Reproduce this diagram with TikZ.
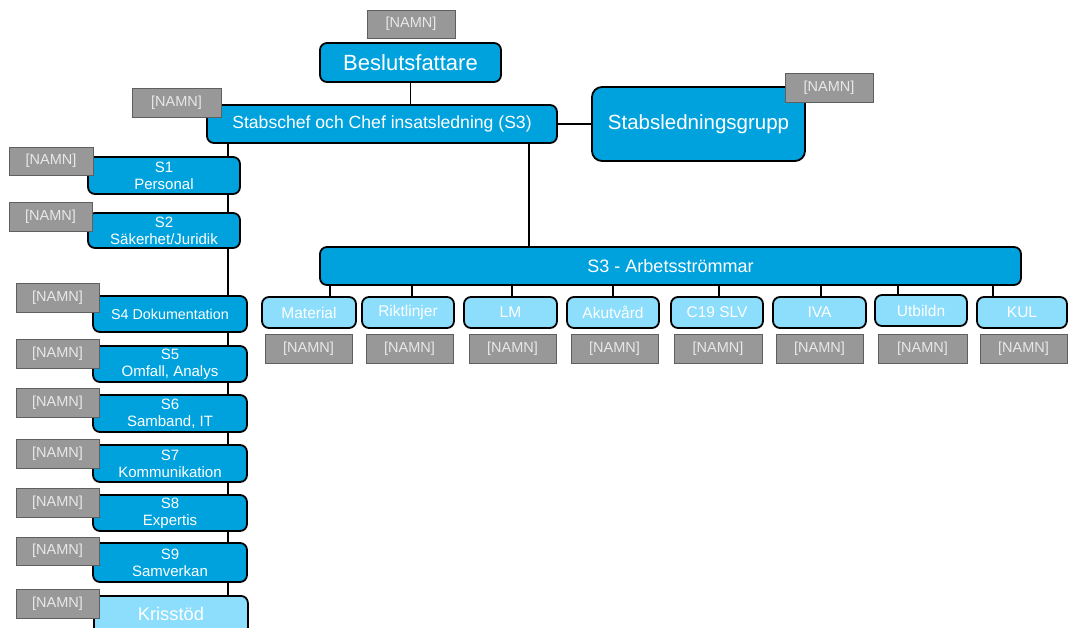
\documentclass[tikz,border=0pt]{standalone}
\usepackage{fontspec}
\setmainfont{Liberation Sans}
\usetikzlibrary{backgrounds}
\definecolor{dblue}{RGB}{0,162,222}
\definecolor{lblue}{RGB}{140,222,252}
\definecolor{ngray}{RGB}{152,152,152}
\definecolor{ngrayd}{RGB}{95,95,95}
\definecolor{ntext}{RGB}{232,232,232}
% box given by its corners x1,y1,x2,y2 (y grows downwards)
\newcommand\ubox[7]{%
  \node[#1, minimum width={(#5-#3)*1pt}, minimum height={(#6-#4)*1pt}]
    (#2) at ({(#3+#5)/2},{(#4+#6)/2}) {#7};}
\newcommand\fs[1]{\fontsize{#1}{\dimexpr#1pt*115/100\relax}\selectfont}
\tikzset{
  mainbox/.style={draw=black, line width=1.8pt, rounded corners=7pt, fill=dblue,
    text=white, align=center, inner sep=0pt},
  lightbox/.style={mainbox, fill=lblue},
  namnbox/.style={draw=ngrayd, fill=ngray, line width=1pt, text=ntext,
    inner sep=0pt, font=\fs{14.5}},
  link/.style={draw=black, line width=1.4pt},
}
\begin{document}
\begin{tikzpicture}[x=1pt,y=-1pt]
\useasboundingbox (0,0) rectangle (1068,627);

% top level
\ubox{mainbox, font=\fs{22}}{besl}{320}{43}{501}{82}{Beslutsfattare}
\ubox{mainbox, font=\fs{17.6}}{stab}{207}{105}{557}{143}{Stabschef och Chef insatsledning (S3)}
\ubox{mainbox, font=\fs{20.5}, rounded corners=10pt}{sg}{592}{87}{805}{161}{Stabsledningsgrupp}

% work streams
\ubox{mainbox, font=\fs{18}}{s3}{320}{247}{1021}{285}{S3 - Arbetsströmmar}
\ubox{lightbox, font=\fs{15.5}}{mat}{262}{297}{356}{328}{Material}
\ubox{lightbox, font=\fs{15.5}}{rik}{362}{297}{454}{328}{Riktlinjer}
\ubox{lightbox, font=\fs{15.5}}{lm}{464}{297}{557}{328}{LM}
\ubox{lightbox, font=\fs{15.5}}{aku}{567}{297}{659}{328}{Akutvård}
\ubox{lightbox, font=\fs{15.5}}{c19}{671}{297}{763}{328}{C19 SLV}
\ubox{lightbox, font=\fs{15.5}}{iva}{773}{297}{866}{328}{IVA}
\ubox{lightbox, font=\fs{15.5}}{utb}{875}{295}{967}{326}{Utbildn}
\ubox{lightbox, font=\fs{15.5}}{kul}{977}{297}{1067}{328}{KUL}

% staff functions
\tikzset{sbox/.style={mainbox, font=\fontsize{15}{17}\selectfont}}
\ubox{sbox}{sa}{88}{157}{240}{194}{S1\\Personal}
\ubox{sbox}{sb}{88}{213}{240}{248}{S2\\Säkerhet/Juridik}
\ubox{mainbox, font=\fs{14.3}}{sd}{93}{296}{247}{332}{S4 Dokumentation}
\ubox{sbox}{se}{93}{346}{247}{382}{S5\\Omfall, Analys}
\ubox{sbox}{sf}{93}{395}{247}{432}{S6\\Samband, IT}
\ubox{sbox}{sg7}{93}{445}{247}{482}{S7\\Kommunikation}
\ubox{sbox}{sh}{93}{495}{247}{531}{S8\\Expertis}
\ubox{sbox}{si}{93}{543}{247}{582}{S9\\Samverkan}
\node[lightbox, font=\fs{18.3}, minimum width=154pt, minimum height=50pt, anchor=north west,
  text depth=0pt] (kris) at (93,595) {\raisebox{14pt}{Krisstöd}};

% name tags
\ubox{namnbox}{n0}{367}{10}{455}{38}{[NAMN]}
\ubox{namnbox}{n1}{132}{88}{221}{117}{[NAMN]}
\ubox{namnbox}{n2}{785}{73}{873}{102}{[NAMN]}
\ubox{namnbox}{na}{9}{147}{93}{175}{[NAMN]}
\ubox{namnbox}{nb}{9}{202}{92}{231}{[NAMN]}
\ubox{namnbox}{nd}{16}{283}{99}{312}{[NAMN]}
\ubox{namnbox}{ne}{16}{339}{99}{368}{[NAMN]}
\ubox{namnbox}{nf}{16}{388}{99}{417}{[NAMN]}
\ubox{namnbox}{ng}{16}{439}{99}{468}{[NAMN]}
\ubox{namnbox}{nh}{16}{488}{99}{517}{[NAMN]}
\ubox{namnbox}{ni}{16}{537}{99}{565}{[NAMN]}
\ubox{namnbox}{nk}{16}{589}{99}{618}{[NAMN]}
\ubox{namnbox}{nmat}{265}{334}{352}{363}{[NAMN]}
\ubox{namnbox}{nrik}{366}{334}{453}{363}{[NAMN]}
\ubox{namnbox}{nlm}{469}{334}{556}{363}{[NAMN]}
\ubox{namnbox}{naku}{571}{334}{658}{363}{[NAMN]}
\ubox{namnbox}{nc19}{674}{334}{762}{363}{[NAMN]}
\ubox{namnbox}{niva}{776}{334}{863}{363}{[NAMN]}
\ubox{namnbox}{nutb}{878}{334}{967}{363}{[NAMN]}
\ubox{namnbox}{nkul}{980}{334}{1067}{363}{[NAMN]}

% x positions of the vertical connectors
\coordinate (xl) at (228,0);
\coordinate (xs) at (529,0);
\coordinate (xmat) at (330,0);
\coordinate (xrik) at (412,0);
\coordinate (xlm) at (512,0);
\coordinate (xaku) at (613,0);
\coordinate (xc19) at (719,0);
\coordinate (xiva) at (821,0);
\coordinate (xutb) at (898,0);
\coordinate (xkul) at (993,0);

\begin{pgfonlayer}{background}
  \draw[link] (besl.south) -- (besl.south |- stab.north);
  \draw[link] (stab.east) -- (stab.east -| sg.west);
  \draw[link] (stab.south -| xs) -- (s3.north -| xs);
  \draw[link] (stab.south -| xl) -- (kris.center -| xl);
  \foreach \b in {mat,rik,lm,aku,c19,iva,utb,kul}
    \draw[link] (s3.south -| x\b) -- (\b.north -| x\b);
\end{pgfonlayer}
\end{tikzpicture}
\end{document}
